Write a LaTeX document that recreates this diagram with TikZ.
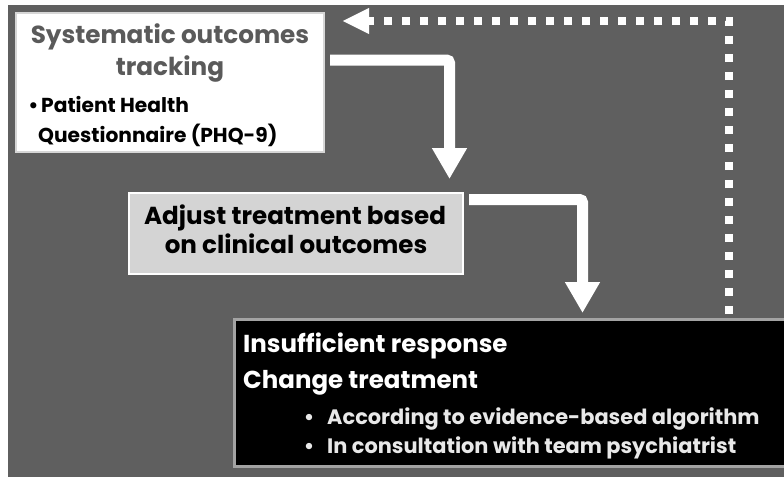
\documentclass[tikz,border=0pt]{standalone}
\usepackage{fontspec}
\setmainfont{Poppins}
\usetikzlibrary{arrows.meta}
\definecolor{bg}{HTML}{5F5F5F}
\definecolor{titlegray}{HTML}{5A5A5A}
\definecolor{boxoneedge}{HTML}{D6D6D6}
\definecolor{boxtwofill}{HTML}{D4D4D4}
\definecolor{boxthreeedge}{HTML}{A3A3A3}
\definecolor{softwhite}{HTML}{E8E8E8}
\begin{document}
\begin{tikzpicture}[x=1pt,y=-1pt,font=\bfseries,
  txt/.style={inner sep=0pt,anchor=base},
  txtl/.style={inner sep=0pt,anchor=base west},
  bigarrow/.style={draw=white,line width=11pt,rounded corners=3pt,
    -{Triangle[width=33pt,length=31pt]}},
  dotarrow/.style={draw=white,line width=8pt,dash pattern=on 8pt off 10pt,
    -{Triangle[width=24pt,length=27pt]}}]
\useasboundingbox (0,0) rectangle (784,477);
\clip (0,0) rectangle (784,477);
\fill[bg] (8,5) rectangle (784,477);
% boxes
\node[draw=boxoneedge,fill=white,line width=2pt,inner sep=0pt,
  minimum width=308pt,minimum height=139pt] (s) at (170,82.5) {};
\node[draw=white,fill=boxtwofill,line width=2pt,inner sep=0pt,
  minimum width=334pt,minimum height=81pt] (adj) at (296,233.5) {};
\node[draw=boxthreeedge,fill=black,line width=3pt,inner sep=0pt,
  minimum width=565.5pt,minimum height=147pt] (ins) at (517.25,393) {};
% box 1 text
\node[txt,text=titlegray,font=\bfseries\fontsize{24.7}{24.7}\selectfont] (s1) at (170,43) {Systematic outcomes};
\node[txt,text=titlegray,font=\bfseries\fontsize{24.7}{24.7}\selectfont] (s2) at (170,75) {tracking};
\node[txt,font=\bfseries\fontsize{20.2}{20.2}\selectfont] (sb) at (33.5,112) {•};
\node[txtl,font=\bfseries\fontsize{20.2}{20.2}\selectfont] (s3) at (41,112) {Patient Health};
\node[txtl,font=\bfseries\fontsize{20.2}{20.2}\selectfont] (s4) at (38,142) {Questionnaire (PHQ-9)};
% box 2 text
\node[txt,font=\bfseries\fontsize{24.6}{24.6}\selectfont] (a1) at (295,224) {Adjust treatment based};
\node[txt,font=\bfseries\fontsize{24.6}{24.6}\selectfont] (a2) at (296,253) {on clinical outcomes};
% box 3 text
\node[txtl,text=white,font=\bfseries\fontsize{24.5}{24.5}\selectfont] (i1) at (243,352) {Insufficient response};
\node[txtl,text=white,font=\bfseries\fontsize{24.5}{24.5}\selectfont] (i2) at (243,388) {Change treatment};
\node[txt,text=softwhite,font=\bfseries\fontsize{20.9}{20.9}\selectfont] (ib1) at (309,424) {•};
\node[txtl,text=softwhite,font=\bfseries\fontsize{20.9}{20.9}\selectfont] (i3) at (327,424) {According to evidence-based algorithm};
\node[txt,text=softwhite,font=\bfseries\fontsize{20.9}{20.9}\selectfont] (ib2) at (309,453) {•};
\node[txtl,text=softwhite,font=\bfseries\fontsize{20.9}{20.9}\selectfont] (i4) at (327,453) {In consultation with team psychiatrist};
% arrows
\draw[bigarrow,shorten <=5pt,shorten >=13pt] (s.east |- 0,60) -| (adj.north -| 449.5,0);
\draw[bigarrow,shorten <=5pt,shorten >=5pt] (adj.east |- 0,199.5) -| (ins.north -| 582.5,0);
\draw[dotarrow,shorten <=4pt,shorten >=17pt] (ins.north -| 729,0) |- (s.east |- 0,21);
\end{tikzpicture}
\end{document}
